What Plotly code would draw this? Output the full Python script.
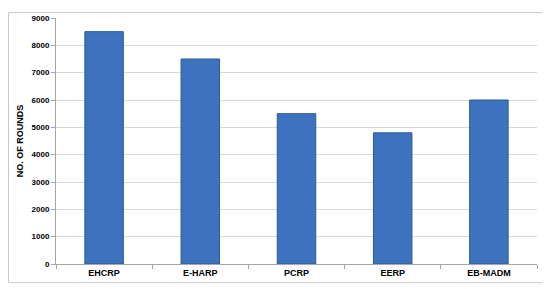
import plotly.graph_objects as go

protocols = ['EHCRP', 'E-HARP', 'PCRP', 'EERP', 'EB-MADM']
rounds = [8500, 7500, 5500, 4800, 6000]
y_ticks = list(range(0, 9001, 1000))

W, H = 542, 281
L, R, T, B = 48, 13, 6, 25

fig = go.Figure()
fig.add_trace(go.Bar(
    x=protocols, y=rounds,
    marker=dict(color='#3c72be', line=dict(color='#2d5a98', width=1)),
    width=0.4,
))

pw, ph = W - L - R, H - T - B
fig.update_layout(
    width=W, height=H,
    margin=dict(l=L, r=R, t=T, b=B),
    paper_bgcolor='white', plot_bgcolor='white',
    font=dict(family='Liberation Sans, Arial', size=8, color='black'),
    showlegend=False,
    # outer frame around the whole chart
    shapes=[dict(type='rect', xref='paper', yref='paper',
                 x0=-(L - 0.5) / pw, x1=(W - 0.5 - L) / pw - 0.012,
                 y0=-(B - 6) / ph, y1=(T - 0.5) / ph + 1,
                 line=dict(color='#c8c8c8', width=1), layer='above')],
)
fig.update_xaxes(
    showline=True, linecolor='#a6a6a6', linewidth=1,
    ticks='outside', tickson='boundaries', ticklen=4, tickcolor='#a6a6a6',
    tickfont=dict(size=9, family='Liberation Sans, Arial', color='black', weight='bold'),
    showgrid=False,
)
fig.update_yaxes(
    range=[0, 9000], tickvals=y_ticks,
    showline=True, linecolor='#a6a6a6', linewidth=1,
    ticks='outside', ticklen=4, tickcolor='#a6a6a6',
    gridcolor='#d9d9d9', gridwidth=1,
    tickfont=dict(size=8, family='Liberation Sans, Arial', color='black', weight='bold'),
    title=dict(text='NO. OF ROUNDS', font=dict(size=9, weight='bold'), standoff=6),
)

fig.write_html('out.html')
